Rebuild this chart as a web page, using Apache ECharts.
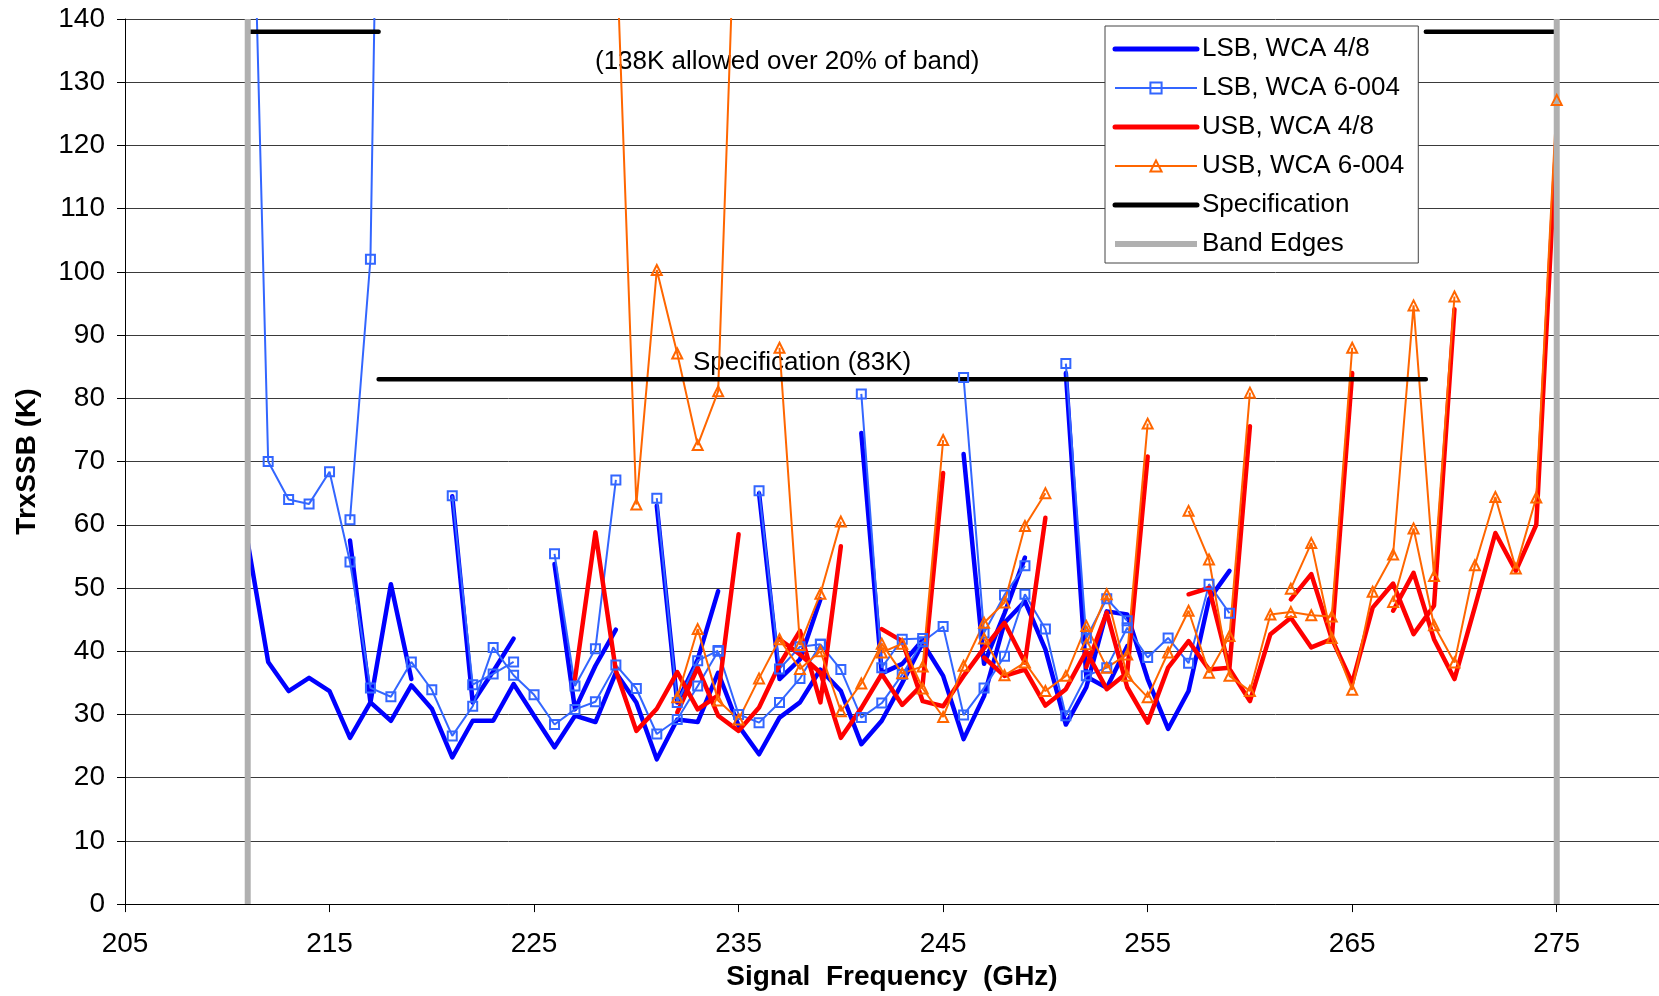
<!DOCTYPE html>
<html>
<head>
<meta charset="utf-8">
<title>TrxSSB vs Signal Frequency</title>
<script src="https://cdn.jsdelivr.net/npm/echarts@6/dist/echarts.min.js"></script>
<style>
  html, body { margin: 0; padding: 0; background: #fff; }
  #chart { width: 1659px; height: 996px; }
</style>
</head>
<body>
<div id="chart"></div>
<script>
// each segment: [start frequency (GHz), values in K at 1 GHz steps]
// LSB, WCA 4/8 : one long sweep plus the short pieces that start at each new LO setting
var lsb48Segments = [
  [211, [57.2, 38.3, 33.7, 35.8, 33.7, 26.3, 31.9, 29.0, 34.6, 30.9, 23.2, 29.0, 29.0, 34.8, 29.8,
         24.8, 29.8, 28.8, 36.6, 31.9, 22.9, 29.2, 28.8, 36.6, 28.2, 23.7, 29.5, 31.9, 37.1, 33.7,
         25.3, 29.0, 35.0, 41.3, 36.1, 26.1, 32.9, 44.5, 47.9, 40.3, 28.4, 34.3, 46.3, 45.8, 35.6,
         27.7, 33.7, 48.2, 52.7]],
  [216, [57.5, 31.9, 50.6, 35.6]],
  [221, [64.5, 31.9, 36.8, 42.0]],
  [226, [53.8, 30.8, 37.7, 43.4]],
  [231, [63.0, 31.9, 38.7, 49.5]],
  [236, [65.0, 35.6, 38.7, 48.2]],
  [241, [74.5, 36.5, 38.0, 41.8]],
  [246, [71.2, 38.0, 46.0, 54.8]],
  [251, [84.0, 36.0, 34.2, 40.8]]
];

// LSB, WCA 6-004
var lsb6004Segments = [
  [211, [197, 70.0, 64.0, 63.3, 68.4, 54.1, 34.2, 32.8, 38.3, 33.9, 26.6, 31.3, 40.6, 36.2, 33.1,
         28.4, 30.8, 32.0, 37.8, 34.1, 26.9, 29.2, 34.5, 40.0, 30.0, 28.7, 31.9, 35.7, 41.1, 37.1,
         29.5, 31.8, 36.3, 41.5, 43.9, 29.9, 34.2, 39.2, 49.0, 43.5, 29.8, 36.1, 37.4, 43.7, 39.0,
         42.1, 38.1, 50.6, 46.0]],
  [216, [60.8, 102, 300]],
  [221, [64.6, 34.7, 36.4, 38.3]],
  [226, [55.4, 34.5, 40.4, 67.1]],
  [231, [64.2, 31.9, 38.5, 40.1]],
  [236, [65.4, 37.2, 40.7, 41.1]],
  [241, [80.7, 37.4, 41.9, 42.0]],
  [246, [83.3, 42.9, 48.9, 53.5]],
  [251, [85.5, 42.1, 48.3, 44.8]]
];

// USB, WCA 4/8
var usb48Segments = [
  [227, [35.6, 58.8, 36.9, 27.4, 30.9, 36.7, 30.8, 33.0, 58.5]],
  [232, [30.3, 37.4, 29.8, 27.4, 31.1, 37.9, 43.2, 31.9, 56.6]],
  [237, [41.9, 39.5, 36.6, 26.3, 31.0, 36.4, 31.5, 34.8, 68.2]],
  [242, [43.5, 41.6, 32.1, 31.3, 36.1, 40.5, 44.5, 38.2, 61.1]],
  [247, [39.0, 36.1, 37.1, 31.4, 34.0, 40.0, 34.0, 36.6, 70.8]],
  [252, [37.5, 46.1, 34.3, 28.7, 37.4, 41.6, 37.1, 37.4, 75.6]],
  [257, [49.0, 50.0, 37.2, 32.1, 42.7, 45.3, 40.6, 41.9, 84.0]],
  [262, [48.2, 52.2, 42.0, 35.0, 46.9, 50.7, 42.7, 47.2, 94.1]],
  [267, [46.4, 52.4, 41.9, 35.6, 47.0, 58.7, 52.7, 60.0, 122]]
];

// USB, WCA 6-004
var usb6004Segments = [
  [229, [154, 63.2, 100.3, 87.1, 72.6, 81.1, 174]],
  [232, [32.7, 43.5, 32.2, 29.2, 35.7, 41.9, 37.2, 40.0, 30.5, 34.9, 41.2, 36.5, 37.6, 73.4]],
  [237, [88.0, 41.0, 49.1, 60.5]],
  [242, [39.8, 41.2, 34.1, 29.6, 37.7, 44.5, 47.7, 59.8, 65.0]],
  [247, [42.0, 36.2, 38.2, 33.7, 36.1, 44.0, 37.4, 39.5, 76.0]],
  [252, [41.1, 49.0, 36.1, 32.7, 39.8, 46.4, 36.6, 42.4, 80.9]],
  [257, [62.2, 54.5, 36.1, 33.7, 45.8, 46.2, 45.7, 45.5, 88.0]],
  [262, [49.9, 57.1, 42.1, 33.9, 49.4, 55.3, 94.7, 51.9, 96.1]],
  [267, [47.8, 59.4, 44.1, 38.2, 53.6, 64.4, 53.1, 64.3, 127.2]]
];

// specification: 83K over the middle, 138K allowed over 20% of the band (both ends)
var specLines = [
  [[211, 138], [217.4, 138]],
  [[217.4, 83], [268.6, 83]],
  [[268.6, 138], [275, 138]]
];
var bandEdges = [211, 275];

var seriesNames = ['LSB, WCA 4/8', 'LSB, WCA 6-004', 'USB, WCA 4/8', 'USB, WCA 6-004', 'Specification', 'Band Edges'];
var xTicks = { min: 205, max: 280, step: 10 };
var yTicks = { min: 0, max: 140, step: 10 };

// turn segments into one data list, '-' breaks the line between pieces
function segData(segs) {
  var out = [];
  segs.forEach(function (s) {
    s[1].forEach(function (v, i) { out.push([s[0] + i, v]); });
    out.push([s[0] + s[1].length - 1, '-']);
  });
  return out;
}
function lineData(lines) {
  var out = [];
  lines.forEach(function (l) {
    l.forEach(function (p) { out.push(p); });
    out.push([l[l.length - 1][0], '-']);
  });
  return out;
}
var edgeData = [];
bandEdges.forEach(function (f) {
  edgeData.push([f, yTicks.min], [f, yTicks.max], [f, '-']);
});

var FONT = '"Liberation Sans", Arial, sans-serif';
var noDot = { color: 'rgba(0,0,0,0)', borderWidth: 0, opacity: 0 };

var chart = echarts.init(document.getElementById('chart'), null, { renderer: 'canvas' });
var option = {
  animation: false,
  backgroundColor: '#fff',
  textStyle: { fontFamily: FONT, color: '#000' },
  grid: { left: 125, top: 19, width: 1537, bottom: 91, containLabel: false },
  xAxis: {
    type: 'value',
    min: xTicks.min, max: xTicks.max, interval: xTicks.step,
    name: 'Signal  Frequency  (GHz)',
    nameLocation: 'middle', nameGap: 58,
    nameTextStyle: { fontSize: 28, fontWeight: 'bold', color: '#000', fontFamily: FONT },
    axisLine: { show: true, lineStyle: { color: '#000', width: 1 } },
    axisTick: { show: true, length: 8, lineStyle: { color: '#000' } },
    axisLabel: { fontSize: 28, color: '#000', margin: 26, showMaxLabel: false, fontFamily: FONT },
    splitLine: { show: false }
  },
  yAxis: {
    type: 'value',
    min: yTicks.min, max: yTicks.max, interval: yTicks.step,
    name: 'TrxSSB (K)',
    nameLocation: 'middle', nameGap: 84,
    nameTextStyle: { fontSize: 28, fontWeight: 'bold', color: '#000', fontFamily: FONT },
    axisLine: { show: true, lineStyle: { color: '#000', width: 1 } },
    axisTick: { show: true, length: 8, lineStyle: { color: '#000' } },
    axisLabel: { fontSize: 28, color: '#000', margin: 20, fontFamily: FONT },
    splitLine: { show: true, lineStyle: { color: '#3a3a3a', width: 1 } }
  },
  legend: {
    orient: 'vertical',
    left: 1105, top: 26,
    data: [
      { name: seriesNames[0], itemStyle: noDot, lineStyle: { width: 5 } },
      { name: seriesNames[1], lineStyle: { width: 2 } },
      { name: seriesNames[2], itemStyle: noDot, lineStyle: { width: 5 } },
      { name: seriesNames[3], lineStyle: { width: 2 } },
      { name: seriesNames[4], itemStyle: noDot, lineStyle: { width: 5 } },
      { name: seriesNames[5], itemStyle: noDot, lineStyle: { width: 6 } }
    ],
    itemWidth: 82, itemHeight: 14, itemGap: 13,
    padding: [10, 14, 6, 7],
    backgroundColor: '#fff',
    borderColor: '#444', borderWidth: 1,
    textStyle: { fontSize: 26, color: '#000', fontFamily: FONT }
  },
  graphic: [
    { type: 'text', x: 595, y: 62, style: { text: '(138K allowed over 20% of band)', font: '26px ' + FONT, fill: '#000', verticalAlign: 'middle' } },
    { type: 'text', x: 693, y: 363, style: { text: 'Specification (83K)', font: '26px ' + FONT, fill: '#000', verticalAlign: 'middle' } }
  ],
  series: [
    {
      name: seriesNames[0], type: 'line', data: segData(lsb48Segments),
      showSymbol: false, symbol: 'none', connectNulls: false,
      itemStyle: { color: '#0000ff' },
      lineStyle: { color: '#0000ff', width: 4.5, cap: 'round', join: 'round' }
    },
    {
      name: seriesNames[1], type: 'line', data: segData(lsb6004Segments),
      symbol: 'rect', symbolSize: 9, connectNulls: false,
      itemStyle: { color: 'rgba(255,255,255,0)', borderColor: '#3366ff', borderWidth: 2 },
      lineStyle: { color: '#3366ff', width: 2 }
    },
    {
      name: seriesNames[2], type: 'line', data: segData(usb48Segments),
      showSymbol: false, symbol: 'none', connectNulls: false,
      itemStyle: { color: '#ff0000' },
      lineStyle: { color: '#ff0000', width: 4.5, cap: 'round', join: 'round' }
    },
    {
      name: seriesNames[3], type: 'line', data: segData(usb6004Segments),
      symbol: 'triangle', symbolSize: 10, connectNulls: false,
      itemStyle: { color: 'rgba(255,255,255,0)', borderColor: '#ff6600', borderWidth: 2 },
      lineStyle: { color: '#ff6600', width: 2 }
    },
    {
      name: seriesNames[4], type: 'line', data: lineData(specLines),
      showSymbol: false, symbol: 'none', connectNulls: false,
      itemStyle: { color: '#000' },
      lineStyle: { color: '#000', width: 4.5, cap: 'round' }
    },
    {
      name: seriesNames[5], type: 'line', data: edgeData,
      showSymbol: false, symbol: 'none', connectNulls: false,
      itemStyle: { color: '#b0b0b0' },
      lineStyle: { color: '#b0b0b0', width: 6 }
    }
  ]
};
chart.setOption(option);
window.onresize = chart.resize;
</script>
</body>
</html>
